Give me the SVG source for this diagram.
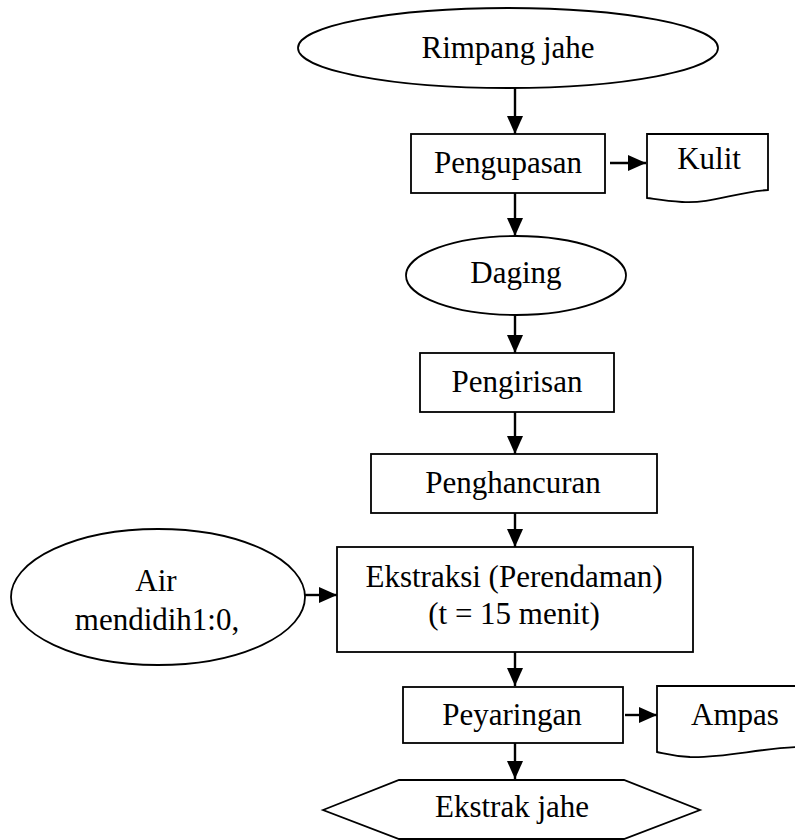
<svg xmlns="http://www.w3.org/2000/svg" width="795" height="840" viewBox="0 0 795 840">
<style>
.s{fill:#fff;stroke:#000;stroke-width:1.8}
.t{font-family:"Liberation Serif","Times New Roman",serif;font-size:31px;fill:#000;text-anchor:middle}
.c{stroke:#000;stroke-width:2.4;fill:none;marker-end:url(#ah)}
</style>
<defs>
<marker id="ah" viewBox="0 0 18 16" refX="18" refY="8" markerWidth="18" markerHeight="16" markerUnits="userSpaceOnUse" orient="auto">
<path d="M0,0 L18,8 L0,16 Z" fill="#000"/>
</marker>
</defs>
<rect width="795" height="840" fill="#fff"/>
<g id="connectors">
<line class="c" x1="515" y1="88" x2="515" y2="134"/>
<line class="c" x1="610" y1="163" x2="646" y2="163"/>
<line class="c" x1="515" y1="193" x2="515" y2="236"/>
<line class="c" x1="515" y1="315" x2="515" y2="353"/>
<line class="c" x1="515" y1="412" x2="515" y2="454"/>
<line class="c" x1="515" y1="513" x2="515" y2="547"/>
<line class="c" x1="305" y1="595" x2="337" y2="595"/>
<line class="c" x1="515" y1="652" x2="515" y2="686"/>
<line class="c" x1="625" y1="715" x2="657" y2="715"/>
<line class="c" x1="515" y1="743" x2="515" y2="779"/>
</g>
<g id="rimpang">
<ellipse class="s" cx="508" cy="48" rx="210" ry="40"/>
<text class="t" x="508" y="58">Rimpang jahe</text>
</g>
<g id="pengupasan">
<rect class="s" x="411" y="134" width="194" height="59"/>
<text class="t" x="508" y="173">Pengupasan</text>
</g>
<g id="kulit">
<path class="s" d="M647,134 L768,134 L768,190 C735,192 712,204 682,202 C665,201 655,199 647,198 Z"/>
<text class="t" x="709" y="169">Kulit</text>
</g>
<g id="daging">
<ellipse class="s" cx="516" cy="275.5" rx="110" ry="39.5"/>
<text class="t" x="516" y="283">Daging</text>
</g>
<g id="pengirisan">
<rect class="s" x="420" y="353" width="194" height="59"/>
<text class="t" x="517" y="392">Pengirisan</text>
</g>
<g id="penghancuran">
<rect class="s" x="371" y="454" width="286" height="59"/>
<text class="t" x="513" y="493">Penghancuran</text>
</g>
<g id="air">
<ellipse class="s" cx="158" cy="597" rx="147" ry="68"/>
<text class="t" x="156" y="591">Air</text>
<text class="t" x="157" y="630">mendidih1:0,</text>
</g>
<g id="ekstraksi">
<rect class="s" x="337" y="547" width="356" height="105"/>
<text class="t" x="514" y="587">Ekstraksi (Perendaman)</text>
<text class="t" x="514" y="624">(t = 15 menit)</text>
</g>
<g id="peyaringan">
<rect class="s" x="403" y="687" width="220" height="56"/>
<text class="t" x="512" y="725">Peyaringan</text>
</g>
<g id="ampas">
<path class="s" d="M657,686 L800,686 L800,747 C760,748 725,758 690,757 C672,756 663,753 657,752 Z"/>
<text class="t" x="735" y="725">Ampas</text>
</g>
<g id="ekstrak">
<path class="s" d="M323,810 L399,780 L624,780 L700,810 L624,839 L399,839 Z"/>
<text class="t" x="512" y="817">Ekstrak jahe</text>
</g>
</svg>
